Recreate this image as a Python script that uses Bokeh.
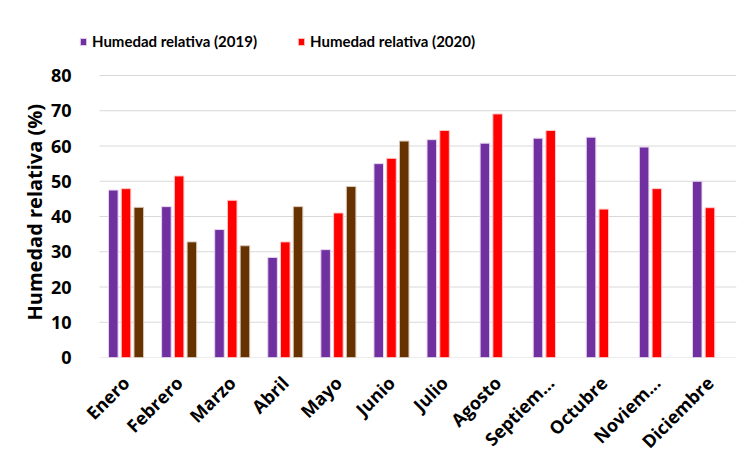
from bokeh.plotting import figure
from bokeh.models import ColumnDataSource, Range1d, FixedTicker, Legend, LegendItem, Title
from bokeh.transform import dodge
from bokeh.embed import file_html
from bokeh.resources import INLINE
import math

months = ["Enero", "Febrero", "Marzo", "Abril", "Mayo", "Junio", "Julio",
          "Agosto", "Septiem...", "Octubre", "Noviem...", "Diciembre"]
h2019 = [47.5, 42.8, 36.3, 28.4, 30.6, 55.0, 61.8, 60.8, 62.2, 62.5, 59.7, 50.0]
h2020 = [47.9, 51.5, 44.6, 32.8, 41.0, 56.5, 64.4, 69.1, 64.4, 42.1, 47.9, 42.5]
months_3 = ["Enero", "Febrero", "Marzo", "Abril", "Mayo", "Junio"]
h2021 = [42.6, 32.8, 31.7, 42.8, 48.5, 61.4]
y_ticks = [0, 10, 20, 30, 40, 50, 60, 70, 80]
series_names = ["Humedad relativa (2019)", "Humedad relativa (2020)"]
y_title = "Humedad relativa (%)"

C19, C20, C21 = "#7030A0", "#FF0000", "#663300"

idx = list(range(len(months)))
idx3 = [months.index(m) for m in months_3]
src = ColumnDataSource(dict(i=idx, a=h2019, b=h2020))
src3 = ColumnDataSource(dict(i=idx3, c=h2021))
grid_src = ColumnDataSource(dict(y=y_ticks,
                                 x0=[-0.5] * len(y_ticks),
                                 x1=[len(months) - 0.5] * len(y_ticks)))

# frame extends a little left of the first category and above 80 so that
# the legend (which Bokeh clips to the frame) can sit where the reference has it
p = figure(x_range=Range1d(-0.5 - 0.377, len(months) - 0.5),
           y_range=Range1d(0, 92.2), width=749, height=464,
           output_backend="svg", toolbar_location=None,
           min_border_left=79, min_border_right=13,
           min_border_top=32, min_border_bottom=107)

p.segment(x0="x0", x1="x1", y0="y", y1="y", source=grid_src,
          line_color="#d9d9d9", line_width=1.2)

w = 0.18
r1 = p.vbar(x=dodge("i", -0.24), top="a", width=w, source=src,
            fill_color=C19, line_color="#e6d6f0", line_width=1)
r2 = p.vbar(x=dodge("i", 0.0), top="b", width=w, source=src,
            fill_color=C20, line_color="#ffc8c8", line_width=1)
p.vbar(x=dodge("i", 0.24), top="c", width=w, source=src3,
       fill_color=C21, line_color="#d8c8b8", line_width=1)

p.outline_line_color = None
p.grid.visible = False

p.yaxis.ticker = FixedTicker(ticks=y_ticks)
p.yaxis.axis_line_color = None
p.yaxis.major_tick_line_color = None
p.yaxis.minor_tick_line_color = None
p.yaxis.major_label_text_font = "Open Sans"
p.yaxis.major_label_text_font_style = "bold"
p.yaxis.major_label_text_font_size = "18px"
p.yaxis.major_label_text_color = "black"
p.yaxis.major_label_standoff = 2

# y-axis title, placed relative to the 0..80 part of the axis
yt = Title(text=y_title, align="left", offset=37, vertical_align="bottom",
           standoff=0, text_font="Open Sans", text_font_style="bold",
           text_font_size="20px", text_color="black")
p.add_layout(yt, "left")

p.xaxis.ticker = FixedTicker(ticks=idx)
p.xaxis.major_label_overrides = {i: m for i, m in zip(idx, months)}
p.xaxis.axis_line_color = None
p.xaxis.major_tick_line_color = None
p.xaxis.minor_tick_line_color = None
p.xaxis.major_label_orientation = math.pi / 4
p.xaxis.major_label_text_font = "Open Sans"
p.xaxis.major_label_text_font_style = "bold"
p.xaxis.major_label_text_font_size = "18px"
p.xaxis.major_label_text_color = "black"
p.xaxis.major_label_standoff = 16

lg = Legend(items=[LegendItem(label=series_names[0], renderers=[r1]),
                   LegendItem(label=series_names[1], renderers=[r2])],
            orientation="horizontal", location=(0, 307))
lg.border_line_color = None
lg.background_fill_alpha = 0
lg.label_text_font = "Lato"
lg.label_text_font_style = "bold"
lg.label_text_font_size = "15px"
lg.label_text_color = "black"
lg.glyph_width = 8
lg.glyph_height = 9
lg.label_standoff = 5
lg.spacing = 40
lg.padding = 0
lg.margin = 0
p.add_layout(lg)

open("out.html", "w").write(file_html(p, INLINE))
